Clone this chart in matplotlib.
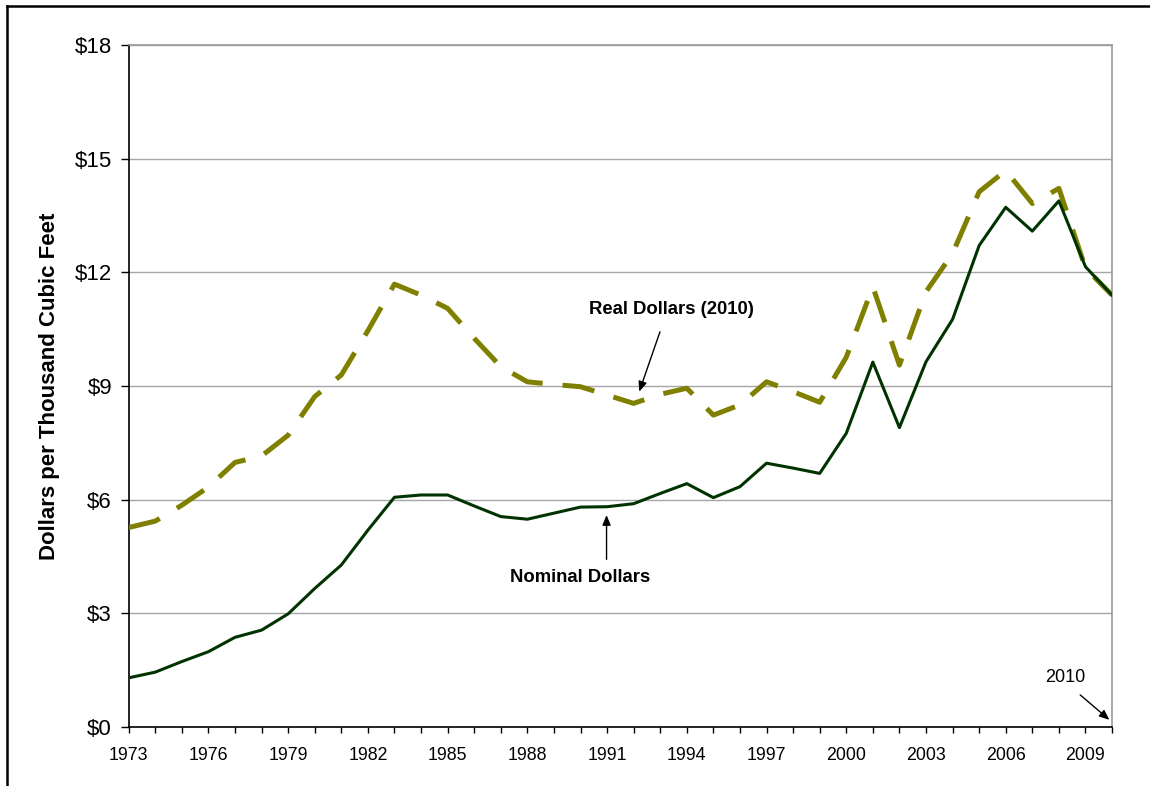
import matplotlib
matplotlib.use("Agg")
import matplotlib.pyplot as plt
from matplotlib.lines import Line2D

plt.rcParams["font.family"] = ["Liberation Sans", "DejaVu Sans"]

# data
years = list(range(1973, 2011))
nominal = [1.29, 1.44, 1.72, 1.98, 2.36, 2.55, 2.98, 3.65, 4.27, 5.19,
           6.06, 6.12, 6.12, 5.83, 5.55, 5.48, 5.64, 5.80, 5.81, 5.89,
           6.16, 6.42, 6.05, 6.34, 6.96, 6.83, 6.69, 7.75, 9.63, 7.90,
           9.64, 10.76, 12.71, 13.72, 13.09, 13.89, 12.15, 11.40]
real_2010 = [5.26, 5.43, 5.85, 6.33, 6.98, 7.15, 7.70, 8.72, 9.29, 10.46,
             11.69, 11.40, 11.05, 10.26, 9.51, 9.11, 9.04, 8.98, 8.76, 8.54,
             8.78, 8.94, 8.23, 8.50, 9.11, 8.85, 8.57, 9.76, 11.62, 9.55,
             11.49, 12.50, 14.13, 14.69, 13.82, 14.22, 12.11, 11.40]
y_ticks = [0, 3, 6, 9, 12, 15, 18]
x_major = list(range(1973, 2010, 3))

fig = plt.figure(figsize=(11.5, 7.86), dpi=100)
ax = fig.add_axes([0.1119, 0.0755, 0.8551, 0.8669])

ax.plot(years, real_2010, color="#808000", lw=3.6, linestyle=(0, (6.5, 4)),
        zorder=3)
ax.plot(years, nominal, color="#003300", lw=2.2, zorder=4)

ax.set_xlim(1973, 2010)
ax.set_ylim(0, 18)
ax.set_yticks(y_ticks)
ax.set_yticklabels([f"${v}" for v in y_ticks], fontsize=16)
ax.set_xticks(x_major)
ax.set_xticklabels([str(y) for y in x_major], fontsize=12.8)
ax.set_xticks(years, minor=True)
ax.tick_params(axis="y", direction="out", length=6, width=1, pad=6)
ax.tick_params(axis="x", which="both", direction="out", length=4.5, width=1, pad=10)

ax.grid(axis="y", color="#a6a6a6", lw=1)
ax.set_axisbelow(True)
for side in ["top", "right"]:
    ax.spines[side].set_color("#999999")
    ax.spines[side].set_linewidth(1.2)
for side in ["left", "bottom"]:
    ax.spines[side].set_color("black")
    ax.spines[side].set_linewidth(1.2)

ax.set_ylabel("Dollars per Thousand Cubic Feet", fontsize=16, fontweight="bold")
ax.yaxis.set_label_coords(-0.070, 0.5)

# labels with arrows
arrow = dict(arrowstyle="-|>,head_length=0.6,head_width=0.25", color="black",
             lw=1, shrinkA=0, shrinkB=0)
ax.text(1993.44, 11.03, "Real Dollars (2010)", fontsize=13.3, fontweight="bold",
        ha="center", va="center")
ax.annotate("", xy=(1992.21, 8.85), xytext=(1992.99, 10.43), arrowprops=arrow)
ax.text(1989.98, 3.93, "Nominal Dollars", fontsize=13.3, fontweight="bold",
        ha="center", va="center")
ax.annotate("", xy=(1990.98, 5.59), xytext=(1990.98, 4.42), arrowprops=arrow)
ax.text(2008.23, 1.29, "2010", fontsize=13, ha="center", va="center")
ax.annotate("", xy=(2009.9, 0.18), xytext=(2008.8, 0.84), arrowprops=arrow,
            annotation_clip=False)

# partial frame around the figure
fig.add_artist(Line2D([0.0065, 1.0], [0.993, 0.993], transform=fig.transFigure,
                      color="black", lw=1.8))
fig.add_artist(Line2D([0.0065, 0.0065], [0.0, 0.993], transform=fig.transFigure,
                      color="black", lw=1.8))

fig.savefig("out.png", dpi=100)
